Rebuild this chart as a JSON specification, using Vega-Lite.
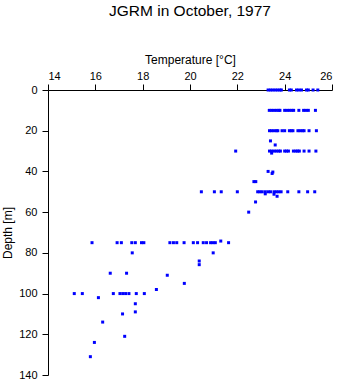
{
  "$schema": "https://vega.github.io/schema/vega-lite/v6.json",
  "autosize": {"type": "none"},
  "width": 284,
  "height": 285,
  "padding": {"left": 48, "top": 90, "right": 9, "bottom": 9},
  "background": "white",
  "config": {
    "view": {"stroke": null},
    "font": "Liberation Sans",
    "axis": {"grid": false, "domainColor": "black", "tickColor": "black", "labelColor": "black", "titleColor": "black", "labelFont": "Liberation Sans", "titleFont": "Liberation Sans", "labelFontSize": 11, "titleFontSize": 12, "titleFontWeight": "normal", "tickSize": 6, "domainWidth": 1, "tickWidth": 1}
  },
  "title": {"text": "JGRM in October, 1977", "fontSize": 15.5, "fontWeight": "normal", "font": "Liberation Sans", "color": "black", "anchor": "middle", "offset": 34},
  "data": {"values": [
    {"T": 23.3, "D": 0}, {"T": 23.4, "D": 0}, {"T": 23.5, "D": 0}, {"T": 23.6, "D": 0}, {"T": 23.7, "D": 0}, {"T": 23.8, "D": 0}, {"T": 23.86, "D": 0}, {"T": 24.2, "D": 0}, {"T": 24.28, "D": 0}, {"T": 24.5, "D": 0}, {"T": 24.6, "D": 0}, {"T": 24.71, "D": 0}, {"T": 24.92, "D": 0}, {"T": 25.0, "D": 0}, {"T": 25.2, "D": 0}, {"T": 25.4, "D": 0},
    {"T": 23.35, "D": 10}, {"T": 23.45, "D": 10}, {"T": 23.55, "D": 10}, {"T": 23.65, "D": 10}, {"T": 23.75, "D": 10}, {"T": 23.8, "D": 10}, {"T": 24.0, "D": 10}, {"T": 24.1, "D": 10}, {"T": 24.2, "D": 10}, {"T": 24.3, "D": 10}, {"T": 24.38, "D": 10}, {"T": 24.6, "D": 10}, {"T": 24.8, "D": 10}, {"T": 24.9, "D": 10}, {"T": 25.0, "D": 10}, {"T": 25.3, "D": 10},
    {"T": 23.36, "D": 20}, {"T": 23.45, "D": 20}, {"T": 23.55, "D": 20}, {"T": 23.65, "D": 20}, {"T": 23.71, "D": 20}, {"T": 23.89, "D": 20}, {"T": 24.0, "D": 20}, {"T": 24.2, "D": 20}, {"T": 24.28, "D": 20}, {"T": 24.35, "D": 20}, {"T": 24.56, "D": 20}, {"T": 24.65, "D": 20}, {"T": 24.75, "D": 20}, {"T": 24.82, "D": 20}, {"T": 25.03, "D": 20}, {"T": 25.34, "D": 20},
    {"T": 23.4, "D": 25}, {"T": 23.6, "D": 27},
    {"T": 21.93, "D": 30}, {"T": 23.36, "D": 30}, {"T": 23.45, "D": 30}, {"T": 23.55, "D": 30}, {"T": 23.65, "D": 30}, {"T": 23.75, "D": 30}, {"T": 23.82, "D": 30}, {"T": 24.0, "D": 30}, {"T": 24.08, "D": 30}, {"T": 24.16, "D": 30}, {"T": 24.37, "D": 30}, {"T": 24.47, "D": 30}, {"T": 24.55, "D": 30}, {"T": 24.62, "D": 30}, {"T": 24.82, "D": 30}, {"T": 25.03, "D": 30}, {"T": 25.32, "D": 30}, {"T": 23.45, "D": 31},
    {"T": 23.3, "D": 40}, {"T": 23.5, "D": 40.3}, {"T": 23.47, "D": 41},
    {"T": 22.7, "D": 45}, {"T": 22.78, "D": 45},
    {"T": 20.48, "D": 50}, {"T": 21.03, "D": 50}, {"T": 21.32, "D": 50}, {"T": 22.0, "D": 50}, {"T": 22.86, "D": 50}, {"T": 22.95, "D": 50}, {"T": 23.05, "D": 50}, {"T": 23.18, "D": 50}, {"T": 23.3, "D": 50}, {"T": 23.4, "D": 50}, {"T": 23.55, "D": 50}, {"T": 23.65, "D": 50}, {"T": 23.75, "D": 50}, {"T": 23.85, "D": 50}, {"T": 24.13, "D": 50}, {"T": 24.6, "D": 50}, {"T": 24.97, "D": 50}, {"T": 25.27, "D": 50},
    {"T": 23.18, "D": 51}, {"T": 23.55, "D": 51.2}, {"T": 23.68, "D": 52.2},
    {"T": 22.77, "D": 55}, {"T": 22.48, "D": 60},
    {"T": 15.86, "D": 75}, {"T": 16.92, "D": 75}, {"T": 17.1, "D": 75}, {"T": 17.54, "D": 75}, {"T": 17.69, "D": 75}, {"T": 17.95, "D": 75}, {"T": 18.05, "D": 75}, {"T": 19.15, "D": 75}, {"T": 19.3, "D": 75}, {"T": 19.44, "D": 75}, {"T": 19.75, "D": 75}, {"T": 20.14, "D": 75}, {"T": 20.32, "D": 75}, {"T": 20.56, "D": 75}, {"T": 20.7, "D": 75}, {"T": 20.87, "D": 75}, {"T": 20.97, "D": 75}, {"T": 21.07, "D": 75}, {"T": 21.63, "D": 75}, {"T": 21.3, "D": 74.2},
    {"T": 17.56, "D": 80}, {"T": 20.98, "D": 80},
    {"T": 20.39, "D": 84}, {"T": 20.39, "D": 85.8},
    {"T": 16.63, "D": 90}, {"T": 17.32, "D": 90}, {"T": 19.04, "D": 91}, {"T": 19.76, "D": 95}, {"T": 18.58, "D": 98},
    {"T": 15.11, "D": 100}, {"T": 15.45, "D": 100}, {"T": 16.76, "D": 100}, {"T": 17.04, "D": 100}, {"T": 17.16, "D": 100}, {"T": 17.28, "D": 100}, {"T": 17.42, "D": 100}, {"T": 17.73, "D": 100}, {"T": 18.07, "D": 100},
    {"T": 16.13, "D": 102}, {"T": 17.69, "D": 105}, {"T": 17.69, "D": 109}, {"T": 17.15, "D": 110}, {"T": 16.31, "D": 114}, {"T": 17.24, "D": 121}, {"T": 15.96, "D": 124}, {"T": 15.79, "D": 131}
  ]},
  "mark": {"type": "square", "filled": true, "size": 9, "color": "#0000FF", "opacity": 1},
  "encoding": {
    "x": {"field": "T", "type": "quantitative", "scale": {"domain": [14, 26], "nice": false, "zero": false}, "axis": {"orient": "top", "title": "Temperature [°C]", "values": [14, 16, 18, 20, 22, 24, 26], "labelPadding": 3, "titlePadding": 4}},
    "y": {"field": "D", "type": "quantitative", "scale": {"domain": [0, 140], "reverse": true, "nice": false}, "axis": {"title": "Depth [m]", "values": [0, 20, 40, 60, 80, 100, 120, 140], "labelPadding": 5, "titlePadding": 4}}
  }
}
